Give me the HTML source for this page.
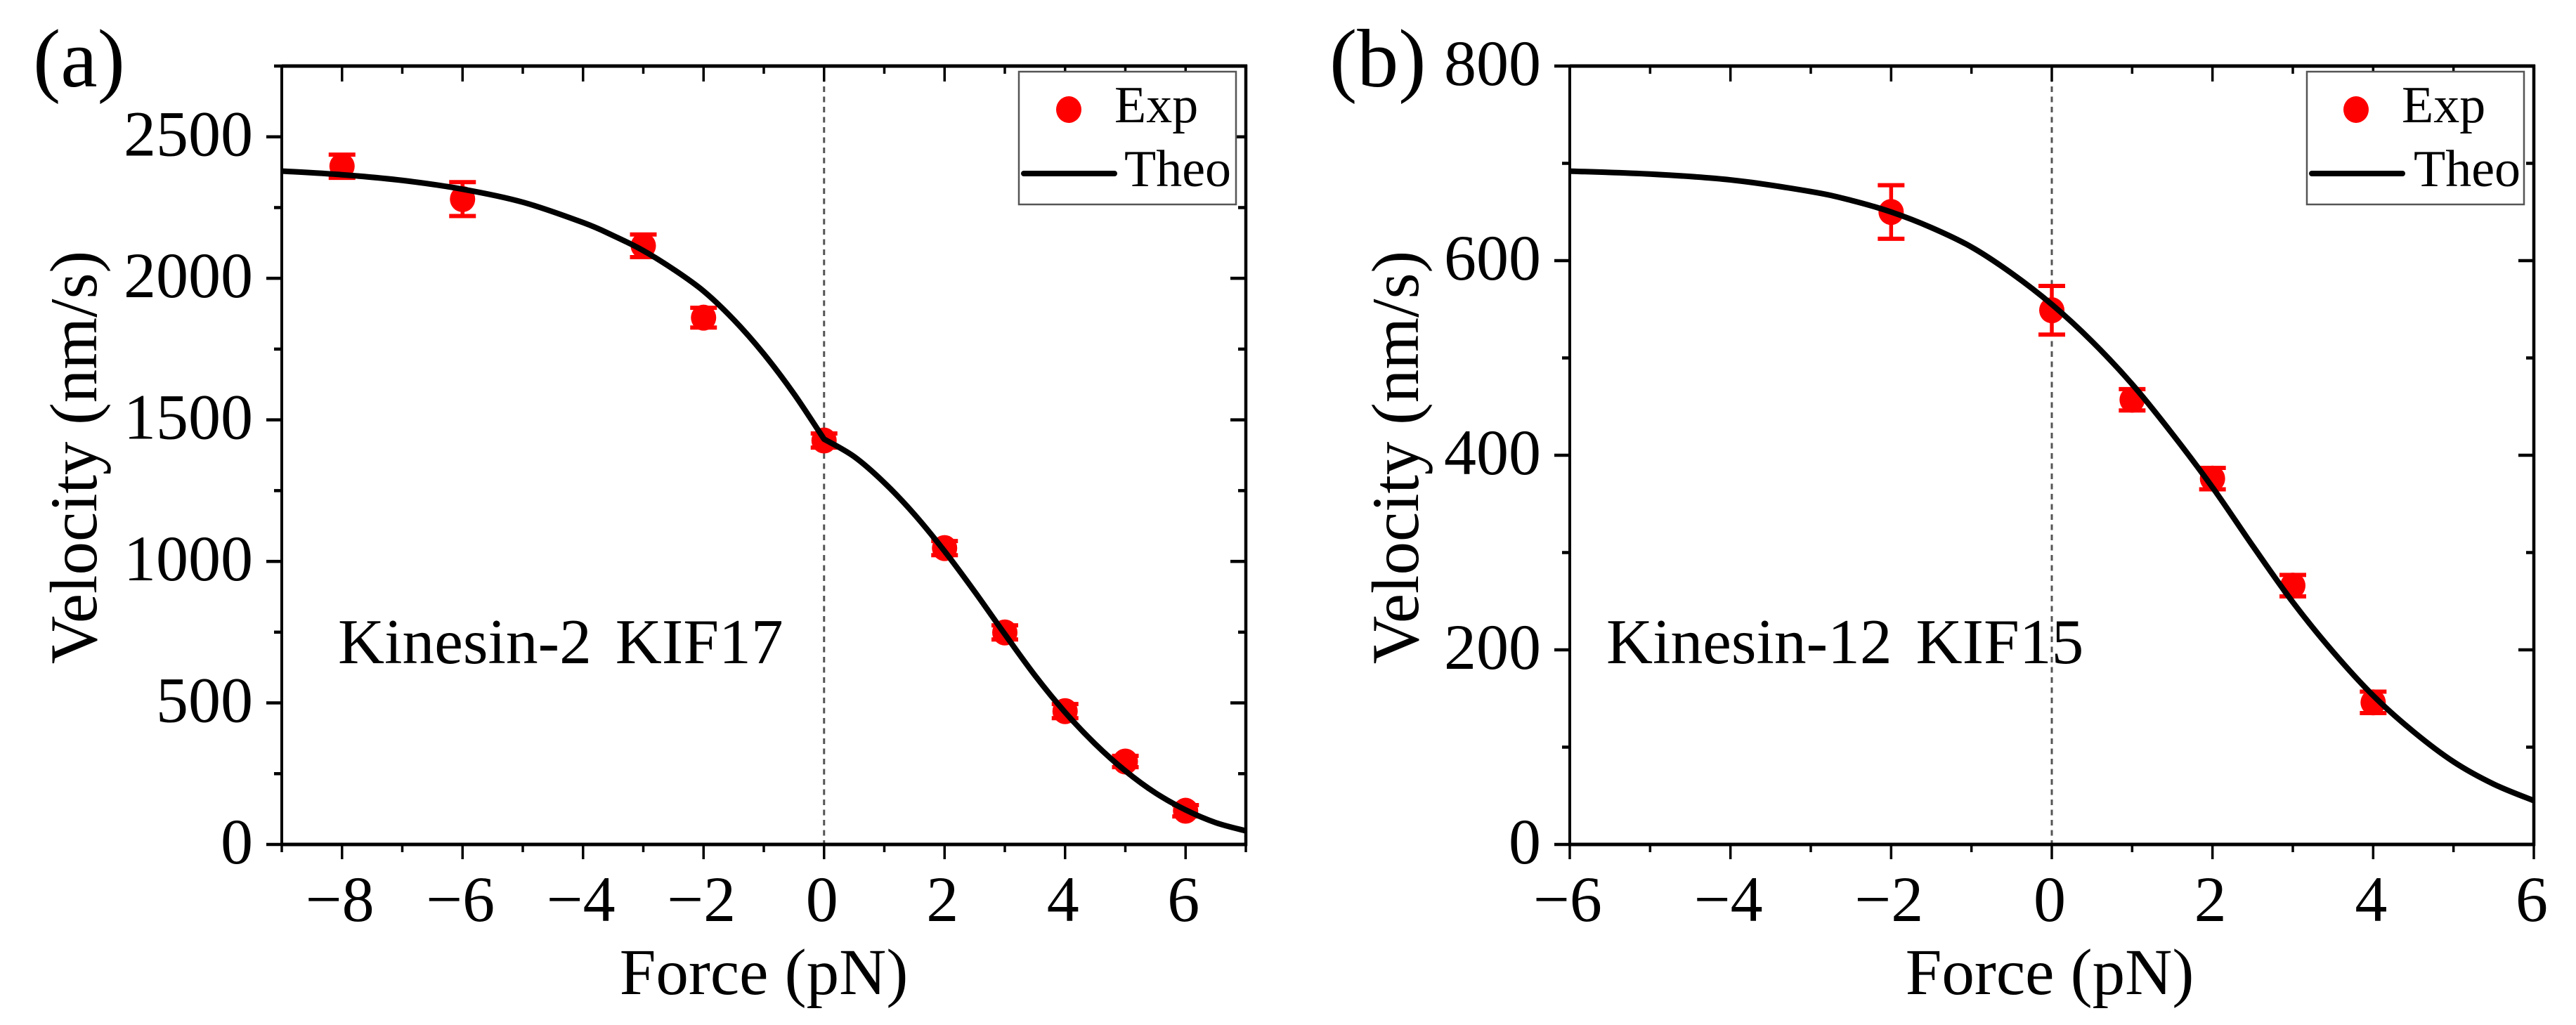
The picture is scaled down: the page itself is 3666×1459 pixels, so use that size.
<!DOCTYPE html>
<html lang="en">
<head>
<meta charset="utf-8">
<title>Kinesin velocity versus force</title>
<style>
html,body{margin:0;padding:0;background:#fff;}
svg{display:block;}
text{font-family:"Liberation Serif","Times New Roman",serif;fill:#000;}
</style>
</head>
<body>
<svg id="figure" xmlns="http://www.w3.org/2000/svg" width="3666" height="1459" viewBox="0 0 3666 1459">
  <rect x="0" y="0" width="3666" height="1459" fill="#fff"/>
  <g id="panel-a"></g>
  <g id="panel-b"></g>

  <text x="47" y="123" font-size="118">(a)</text>
  <text x="1892" y="123" font-size="118">(b)</text>

  <text transform="translate(137,651) rotate(-90)" text-anchor="middle" font-size="95">Velocity (nm/s)</text>
  <text transform="translate(2018,651) rotate(-90)" text-anchor="middle" font-size="95">Velocity (nm/s)</text>
  <text x="1087" y="1415" text-anchor="middle" font-size="93">Force (pN)</text>
  <text x="2917" y="1415" text-anchor="middle" font-size="93">Force (pN)</text>

  <text x="481" y="944" font-size="91.5">Kinesin-2 <tspan dx="11">KIF17</tspan></text>
  <text x="2286" y="944" font-size="91.5">Kinesin-12 <tspan dx="11">KIF15</tspan></text>

  <g>
    <rect x="1450" y="102" width="309" height="189" fill="#fff" stroke="#555" stroke-width="2.5"/>
    <ellipse cx="1521" cy="156" rx="18" ry="19" fill="#ff0000"/>
    <text x="1586" y="174" font-size="74">Exp</text>
    <line x1="1457" y1="247" x2="1586" y2="247" stroke="#000" stroke-width="8" stroke-linecap="round"/>
    <text x="1600" y="265" font-size="74">Theo</text>
  </g>
  <g>
    <rect x="3283" y="102" width="309" height="189" fill="#fff" stroke="#555" stroke-width="2.5"/>
    <ellipse cx="3353" cy="156" rx="18" ry="19" fill="#ff0000"/>
    <text x="3418" y="174" font-size="74">Exp</text>
    <line x1="3290" y1="247" x2="3419" y2="247" stroke="#000" stroke-width="8" stroke-linecap="round"/>
    <text x="3435" y="265" font-size="74">Theo</text>
  </g>
</svg>

<script>
// ---------- Panel (a) data: Kinesin-2 KIF17 ----------
var aXMajor = [-8, -6, -4, -2, 0, 2, 4, 6];
var aXMinor = [-9, -7, -5, -3, -1, 1, 3, 5, 7];
var aYMajor = [0, 500, 1000, 1500, 2000, 2500];
var aYMinor = [250, 750, 1250, 1750, 2250, 2750];
var aExpForce = [-8, -6, -3, -2, 0, 2, 3, 4, 5, 6];
var aExpVelocity = [2396, 2280, 2115, 1861, 1427, 1047, 749, 471, 293, 119];
var aExpError = [41, 60, 40, 35, 25, 25, 25, 25, 20, 20];
var aTheoForce = [-9, -8, -7, -6, -5, -4, -3.5, -3, -2.5, -2, -1.5, -1, -0.5, 0, 0.5, 1, 1.5, 2, 2.5, 3, 3.5, 4, 4.5, 5, 5.5, 6, 6.5, 7];
var aTheoVelocity = [2379, 2366, 2346, 2315, 2269, 2197, 2151, 2098, 2032, 1955, 1854, 1733, 1592, 1432, 1370, 1278, 1166, 1036, 893, 743, 597, 467, 355, 260, 182, 122, 77, 48];
var aCurveBreaks = [0];

// ---------- Panel (b) data: Kinesin-12 KIF15 ----------
var bXMajor = [-6, -4, -2, 0, 2, 4, 6];
var bXMinor = [-5, -3, -1, 1, 3, 5];
var bYMajor = [0, 200, 400, 600, 800];
var bYMinor = [100, 300, 500, 700];
var bExpForce = [-2, 0, 1, 2, 3, 4];
var bExpVelocity = [650, 549, 457, 376, 266, 146];
var bExpError = [27.5, 25, 11, 11, 11, 11];
var bTheoForce = [-6, -5, -4, -3, -2.5, -2, -1.5, -1, -0.5, 0, 0.5, 1, 1.5, 2, 2.5, 3, 3.5, 4, 4.5, 5, 5.5, 6];
var bTheoVelocity = [692, 689, 683, 671, 662, 650, 634, 614, 587, 555, 517, 473, 422, 367, 307, 249, 198, 153, 116, 85, 62, 45];
var bCurveBreaks = [];

var SVG_NS = 'http://www.w3.org/2000/svg';

function make(tag, attrs, parent) {
  var node = document.createElementNS(SVG_NS, tag);
  for (var k in attrs) { node.setAttribute(k, attrs[k]); }
  parent.appendChild(node);
  return node;
}

function fmt(v) {
  return v < 0 ? '\u2212' + Math.abs(v) : String(v);
}

function smoothSegments(pts) {
  var d = '';
  for (var i = 0; i < pts.length - 1; i++) {
    var p0 = pts[Math.max(i - 1, 0)];
    var p1 = pts[i];
    var p2 = pts[i + 1];
    var p3 = pts[Math.min(i + 2, pts.length - 1)];
    d += ' C' + (p1[0] + (p2[0] - p0[0]) / 6).toFixed(2) + ' ' + (p1[1] + (p2[1] - p0[1]) / 6).toFixed(2) +
         ' ' + (p2[0] - (p3[0] - p1[0]) / 6).toFixed(2) + ' ' + (p2[1] - (p3[1] - p1[1]) / 6).toFixed(2) +
         ' ' + p2[0].toFixed(2) + ' ' + p2[1].toFixed(2);
  }
  return d;
}

function drawPanel(root, box, xDomain, yDomain, xMajor, xMinor, yMajor, yMinor, expF, expV, expE, theoF, theoV, breaks) {
  var xScale = function (f) { return box.left + (f - xDomain[0]) / (xDomain[1] - xDomain[0]) * (box.right - box.left); };
  var yScale = function (v) { return box.bottom - (v - yDomain[0]) / (yDomain[1] - yDomain[0]) * (box.bottom - box.top); };
  var black = '#000';

  // dashed reference line at zero force
  var zero = make('line', {x1: xScale(0), y1: box.top, x2: xScale(0), y2: box.bottom, stroke: '#555', 'stroke-width': 3, 'stroke-dasharray': '8 6.5'}, root);
  
  

  // x ticks on bottom (outward) and top (inward)
  xMajor.forEach(function (f) {
    var x = xScale(f);
    var tb = make('line', {x1: x, y1: box.bottom, x2: x, y2: box.bottom + 21, stroke: black, 'stroke-width': 3.5}, root);
    
    
    var tt = make('line', {x1: x, y1: box.top, x2: x, y2: box.top + 22, stroke: black, 'stroke-width': 3.5}, root);
    
    
    var lab = make('text', {x: x - 3, y: 1311, 'text-anchor': 'middle', 'font-size': 92}, root);
    lab.textContent = fmt(f);
    
    
  });
  xMinor.forEach(function (f) {
    var x = xScale(f);
    var tb = make('line', {x1: x, y1: box.bottom, x2: x, y2: box.bottom + 11, stroke: black, 'stroke-width': 3.5}, root);
    
    
    var tt = make('line', {x1: x, y1: box.top, x2: x, y2: box.top + 11, stroke: black, 'stroke-width': 3.5}, root);
    
    
  });

  // y ticks on left (outward) and right (inward)
  yMajor.forEach(function (v) {
    var y = yScale(v);
    var tl = make('line', {x1: box.left - 22, y1: y, x2: box.left, y2: y, stroke: black, 'stroke-width': 4.5}, root);
    
    
    var tr = make('line', {x1: box.right - 22, y1: y, x2: box.right, y2: y, stroke: black, 'stroke-width': 4.5}, root);
    
    
    var lab = make('text', {x: box.left - 41, y: y + 27, 'text-anchor': 'end', 'font-size': 92}, root);
    lab.textContent = fmt(v);
    
    
  });
  yMinor.forEach(function (v) {
    var y = yScale(v);
    var tl = make('line', {x1: box.left - 11, y1: y, x2: box.left, y2: y, stroke: black, 'stroke-width': 4.5}, root);
    
    
    var tr = make('line', {x1: box.right - 11, y1: y, x2: box.right, y2: y, stroke: black, 'stroke-width': 4.5}, root);
    
    
  });

  // axis frame
  var sLeft = make('line', {x1: box.left, y1: box.top - 2, x2: box.left, y2: box.bottom + 2, stroke: black, 'stroke-width': 4}, root);
  
  
  var sRight = make('line', {x1: box.right, y1: box.top - 2, x2: box.right, y2: box.bottom + 2, stroke: black, 'stroke-width': 4.5}, root);
  
  
  var sTop = make('line', {x1: box.left, y1: box.top, x2: box.right + 2, y2: box.top, stroke: black, 'stroke-width': 5}, root);
  
  
  var sBottom = make('line', {x1: box.left, y1: box.bottom, x2: box.right + 2, y2: box.bottom, stroke: black, 'stroke-width': 5}, root);
  
  

  // experimental points with error bars
  expF.forEach(function (f, i) {
    var cx = xScale(f);
    var cy = yScale(expV[i]);
    var top = yScale(expV[i] + expE[i]);
    var bot = yScale(expV[i] - expE[i]);
    var stem = make('line', {x1: cx, y1: top, x2: cx, y2: bot, stroke: '#ff0000', 'stroke-width': 5.5}, root);
    
    
    var capT = make('line', {x1: cx - 19, y1: top, x2: cx + 19, y2: top, stroke: '#ff0000', 'stroke-width': 6}, root);
    
    
    var capB = make('line', {x1: cx - 19, y1: bot, x2: cx + 19, y2: bot, stroke: '#ff0000', 'stroke-width': 6}, root);
    
    
    var dot = make('ellipse', {cx: cx, cy: cy, rx: 18, ry: 18.5, fill: '#ff0000'}, root);
    
    
  });

  // theoretical curve, split at any kink so it stays sharp there
  var pieces = [];
  var current = [];
  theoF.forEach(function (f, i) {
    var pt = [xScale(f), yScale(theoV[i])];
    current.push(pt);
    if (breaks.indexOf(f) !== -1) {
      pieces.push(current);
      current = [pt];
    }
  });
  pieces.push(current);
  var d = 'M' + pieces[0][0][0].toFixed(2) + ' ' + pieces[0][0][1].toFixed(2) + pieces.map(smoothSegments).join('');
  var curve = make('path', {d: d, fill: 'none', stroke: black, 'stroke-width': 8, 'stroke-linejoin': 'round'}, root);
  
  
}

drawPanel(document.getElementById('panel-a'),
  {left: 401, right: 1773, top: 94, bottom: 1202}, [-9, 7], [0, 2750],
  aXMajor, aXMinor, aYMajor, aYMinor, aExpForce, aExpVelocity, aExpError, aTheoForce, aTheoVelocity, aCurveBreaks);

drawPanel(document.getElementById('panel-b'),
  {left: 2234, right: 3606, top: 94, bottom: 1202}, [-6, 6], [0, 800],
  bXMajor, bXMinor, bYMajor, bYMinor, bExpForce, bExpVelocity, bExpError, bTheoForce, bTheoVelocity, bCurveBreaks);
</script>
</body>
</html>
